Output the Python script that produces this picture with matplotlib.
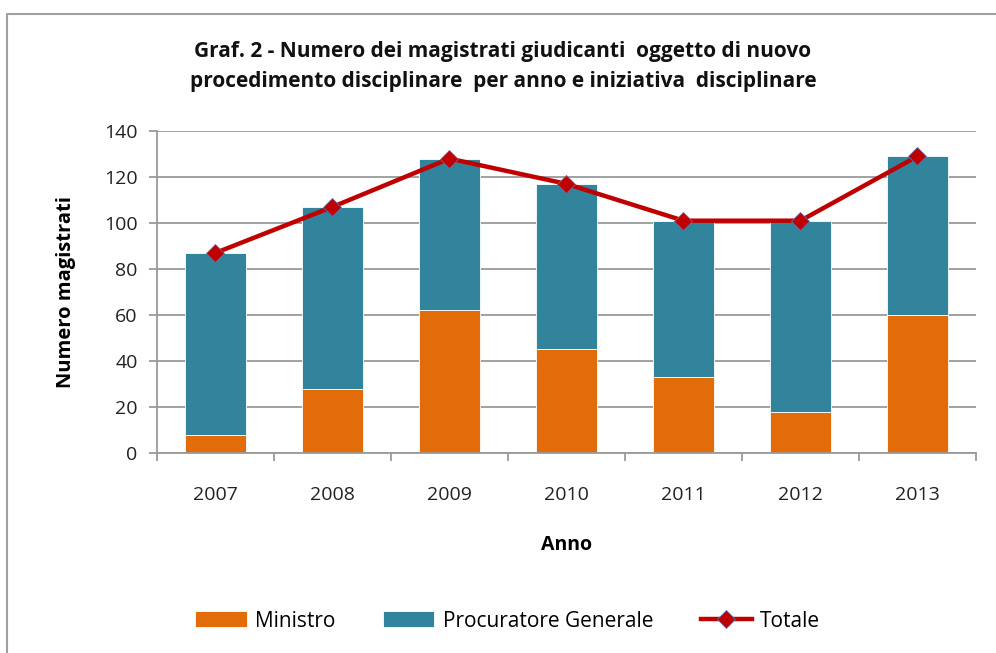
import matplotlib.pyplot as plt
import numpy as np
from matplotlib.lines import Line2D

plt.rcParams['font.family'] = ['Open Sans', 'DejaVu Sans']

anni = ['2007', '2008', '2009', '2010', '2011', '2012', '2013']
ministro = [8, 28, 62, 45, 33, 18, 60]
procuratore = [79, 79, 66, 72, 68, 83, 69]
totale = [87, 107, 128, 117, 101, 101, 129]

col_min = '#E36C0A'
col_pg = '#31849B'
col_tot = '#C00000'
grey = '#9A9A9A'

fig = plt.figure(figsize=(9.96, 6.53), dpi=100)
# frame of the chart area (only top and left edges show in the picture)
fig.lines.append(Line2D([0.007, 0.007, 1.0], [0.0, 0.979, 0.979], transform=fig.transFigure,
                        color='#A0A0A0', linewidth=1.5))

ax = fig.add_axes([0.1576, 0.3063, 0.8223, 0.4931])
x = np.arange(len(anni))

b1 = ax.bar(x, ministro, width=0.52, color=col_min, edgecolor='white', linewidth=0.6,
            label='Ministro', zorder=2)
b2 = ax.bar(x, procuratore, width=0.52, bottom=ministro, color=col_pg, edgecolor='white',
            linewidth=0.6, label='Procuratore Generale', zorder=2)
ln, = ax.plot(x, totale, color=col_tot, linewidth=3.2, marker='D', markersize=9,
              markerfacecolor=col_tot, markeredgecolor='#6A6AA0', markeredgewidth=0.6,
              label='Totale', zorder=3)

ax.set_xlim(-0.5, len(anni) - 0.5)
ax.set_ylim(0, 140)
ax.set_yticks(range(0, 141, 20))
ax.yaxis.grid(True, color=grey, linewidth=1.3, zorder=0)
ax.set_axisbelow(True)

ax.set_xticks(x)
ax.set_xticklabels(anni)
ax.set_xticks(np.arange(-0.5, len(anni)), minor=True)
ax.tick_params(axis='x', which='major', length=0, pad=24, labelsize=14, labelcolor='#222222')
ax.tick_params(axis='x', which='minor', length=6, color=grey, width=1.3)
ax.tick_params(axis='y', length=6, color=grey, width=1.3, labelsize=14, pad=8,
               labelcolor='#222222')

for s in ['top', 'right']:
    ax.spines[s].set_visible(False)
for s in ['left', 'bottom']:
    ax.spines[s].set_color(grey)
    ax.spines[s].set_linewidth(1.3)

ax.set_xlabel('Anno', fontsize=14, fontweight='bold', labelpad=22)
ax.set_ylabel('Numero magistrati', fontsize=14.5, fontweight='bold', labelpad=20)

fig.text(0.505, 0.898, 'Graf. 2 - Numero dei magistrati giudicanti  oggetto di nuovo\n'
         'procedimento disciplinare  per anno e iniziativa  disciplinare',
         ha='center', va='center', fontsize=15, fontweight='bold', linespacing=1.55,
         color='#111111')

fig.legend([b1, b2, ln], ['Ministro', 'Procuratore Generale', 'Totale'],
           loc='center', bbox_to_anchor=(0.51, 0.049), ncol=3, frameon=False,
           fontsize=15, handlelength=2.45, handleheight=0.8, columnspacing=2.3,
           handletextpad=0.4)

fig.savefig('out.png', dpi=100)
